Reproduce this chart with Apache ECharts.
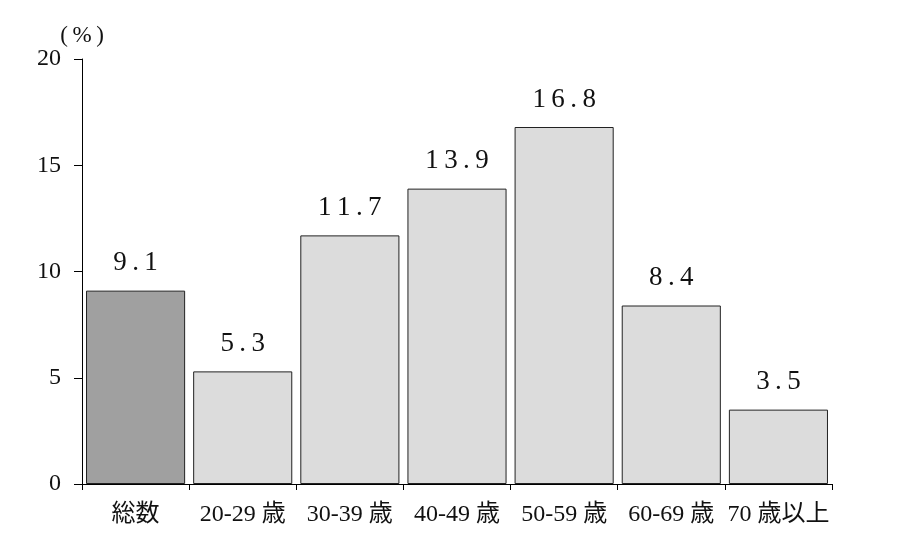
<!DOCTYPE html>
<html><head><meta charset="utf-8">
<script src="https://cdn.jsdelivr.net/npm/echarts@6/dist/echarts.min.js"></script>
<style>html,body{margin:0;padding:0;background:#fff}#c{width:910px;height:556px}</style>
</head><body><div id="c"></div>
<script>
const categories = ['総数', '20-29 歳', '30-39 歳', '40-49 歳', '50-59 歳', '60-69 歳', '70 歳以上'];
const values = [9.1, 5.3, 11.7, 13.9, 16.8, 8.4, 3.5];
const yTicks = [0, 5, 10, 15, 20];
const barColors = ['#a0a0a0', '#dcdcdc', '#dcdcdc', '#dcdcdc', '#dcdcdc', '#dcdcdc', '#dcdcdc'];

const serif = '"Liberation Serif","DejaVu Serif","Noto Sans CJK JP",serif';
const chart = echarts.init(document.getElementById('c'));
chart.setOption({
  backgroundColor: '#fff',
  animation: false,
  grid: {left: 82, right: 78, top: 59, bottom: 72, containLabel: false},
  xAxis: {
    type: 'category', data: categories,
    axisLine: {lineStyle: {color: '#000', width: 1}},
    axisTick: {show: true, alignWithLabel: false, length: 6, lineStyle: {color: '#000'}},
    axisLabel: {color: '#111', fontFamily: serif, fontSize: 24, margin: 19, interval: 0}
  },
  yAxis: {
    type: 'value', min: yTicks[0], max: yTicks[yTicks.length - 1], interval: 5,
    name: '(\u2009%\u2009)', nameLocation: 'end', nameGap: 12,
    nameTextStyle: {color: '#111', fontFamily: serif, fontSize: 23, align: 'center', padding: [0, 0, 0, 0]},
    axisLine: {show: true, lineStyle: {color: '#000', width: 1}},
    axisTick: {show: true, inside: false, length: 8, lineStyle: {color: '#000'}},
    splitLine: {show: false},
    axisLabel: {color: '#111', fontFamily: serif, fontSize: 24, margin: 21}
  },
  series: [{
    type: 'bar',
    data: values.map((v, i) => ({value: v, itemStyle: {color: barColors[i]}})),
    barCategoryGap: '7.5%',
    itemStyle: {borderColor: '#222', borderWidth: 1},
    label: {
      show: true, position: 'top', distance: 14,
      color: '#111', fontFamily: serif, fontSize: 27,
      formatter: p => String(p.value).split('').join('\u2009')
    }
  }]
});
</script></body></html>
